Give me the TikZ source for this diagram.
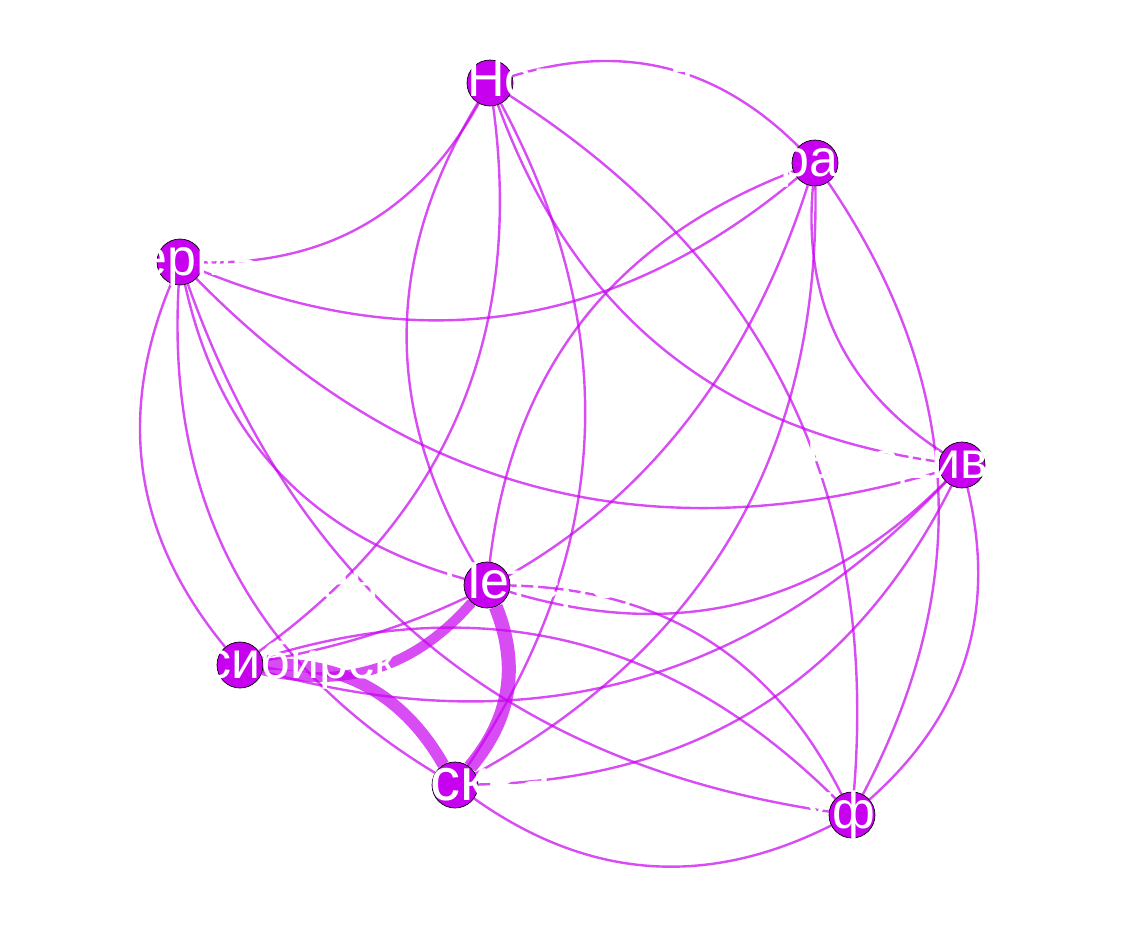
\documentclass[tikz,border=0pt]{standalone}
\usepackage{fontspec}
\setmainfont{Liberation Sans}
\usetikzlibrary{backgrounds}
\definecolor{citypurple}{RGB}{200,0,240}

\begin{document}
\begin{tikzpicture}
[x=1pt, y=-1pt,
every edge/.append style={draw=citypurple, draw opacity=0.7, line width=2.4pt, bend left=31},
city/.style={circle, draw=black, line width=0.7pt, fill=citypurple, minimum size=46pt, inner sep=0pt,
  text=white, font=\fontsize{52}{52}\selectfont, text height=27pt, text depth=0pt},
bigcity/.style={city, font=\fontsize{60}{60}\selectfont, text height=31pt},
]
\useasboundingbox (0,0) rectangle (1124,924);
% name / x / y / label / extra space after the label
\foreach \s/\x/\y/\t/\d in {vl/962/465/Владивосток/0pt, spb/487/585/Санкт-Петербург/0pt,
  nn/490/83/Нижний Новгород/20pt, sar/815/163/Саратов/0pt, nsk/240/665/Новосибирск/0pt,
  ufa/852/815/Уфа/0pt, perm/180/262/Пермь/0pt}
{
{\node[city] (\s) at (\x,\y) {\makebox[0pt]{\t\hspace{\d}}};}
}
\node[bigcity] (msk) at (455,785) {\makebox[0pt]{Москва\hspace{12pt}}};

% every connector bends to its left, from the earlier city to the later one
\begin{scope}[on background layer]
\draw (vl) edge (spb);  \draw (vl) edge (nn);   \draw (vl) edge (sar);  \draw (vl) edge (nsk);
\draw (vl) edge (ufa);  \draw (vl) edge (msk);  \draw (vl) edge (perm);
\draw (spb) edge (nn);  \draw (spb) edge (sar); \draw (spb) edge (ufa); \draw (spb) edge (perm);
\draw (spb) edge[line width=10pt] (nsk);
\draw (spb) edge[line width=14pt] (msk);
\draw (nn) edge (sar);  \draw (nn) edge (nsk);  \draw (nn) edge (ufa);
\draw (nn) edge (msk);  \draw (nn) edge (perm);
\draw (sar) edge (nsk); \draw (sar) edge (ufa); \draw (sar) edge (msk); \draw (sar) edge (perm);
\draw (nsk) edge (ufa); \draw (nsk) edge (perm);
\draw (nsk) edge[line width=12pt] (msk);
\draw (ufa) edge (msk); \draw (ufa) edge (perm);
\draw (msk) edge (perm);
\end{scope}
\end{tikzpicture}
\end{document}
